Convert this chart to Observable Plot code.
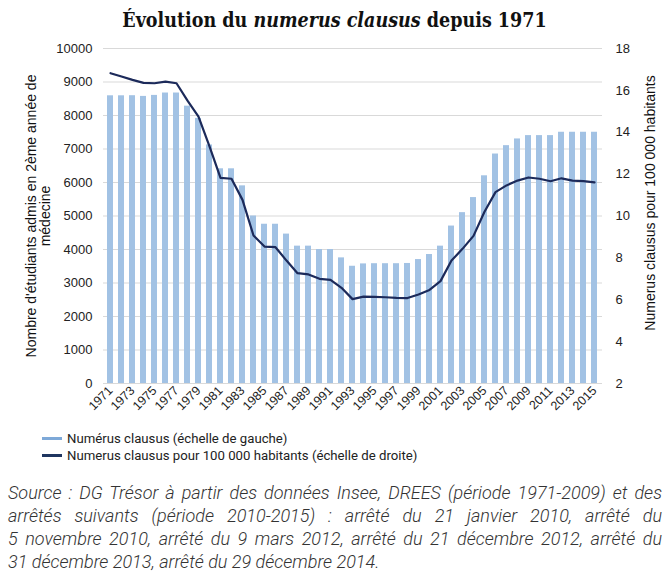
<!DOCTYPE html>
<html><head><meta charset="utf-8">
<script src="https://cdn.jsdelivr.net/npm/d3@7"></script>
<script src="https://cdn.jsdelivr.net/npm/@observablehq/plot@0.6"></script>
<style>
body{margin:0;background:#fff;width:669px;height:582px;position:relative;font-family:"Liberation Sans",Arial,sans-serif;overflow:hidden;}
#title{position:absolute;top:0;left:0;width:669px;height:40px;line-height:42px;text-align:center;font-family:"DejaVu Serif Condensed","DejaVu Serif",serif;font-weight:bold;font-size:19.5px;color:#111;}
#chart{position:absolute;top:38px;left:0;}
.lg{position:absolute;left:42px;height:17px;line-height:17px;font-family:Roboto,"Liberation Sans",sans-serif;font-size:13.2px;color:#222;white-space:nowrap;}
.sw{display:inline-block;width:20px;height:3px;vertical-align:middle;margin-right:5px;position:relative;top:-1px;}
#caption{position:absolute;top:481px;left:8px;width:654px;font-family:Roboto,"Liberation Sans",sans-serif;font-style:italic;font-weight:300;font-size:18px;line-height:23px;color:#333;}
.j{text-align:justify;text-align-last:justify;}
</style></head><body>
<div id="title">Évolution du <i>numerus clausus</i> depuis 1971</div>
<div id="chart"></div>
<div class="lg" style="top:430px"><span class="sw" style="background:#7ea9d8"></span>Numérus clausus (échelle de gauche)</div>
<div class="lg" style="top:447px"><span class="sw" style="background:#1f3560"></span>Numerus clausus pour 100 000 habitants (échelle de droite)</div>
<div id="caption">
<div class="j">Source : DG Trésor à partir des données Insee, DREES (période 1971-2009) et des</div>
<div class="j">arrêtés suivants (période 2010-2015) : arrêté du 21 janvier 2010, arrêté du</div>
<div class="j">5 novembre 2010, arrêté du 9 mars 2012, arrêté du 21 décembre 2012, arrêté du</div>
<div>31 décembre 2013, arrêté du 29 décembre 2014.</div>
</div>
<script>
const years = [1971,1972,1973,1974,1975,1976,1977,1978,1979,1980,1981,1982,1983,1984,1985,1986,1987,1988,1989,1990,1991,1992,1993,1994,1995,1996,1997,1998,1999,2000,2001,2002,2003,2004,2005,2006,2007,2008,2009,2010,2011,2012,2013,2014,2015];
const admis = [8588,8588,8591,8570,8600,8671,8671,8279,7913,7121,6409,6409,5900,5000,4754,4754,4460,4100,4100,4000,4000,3750,3500,3570,3576,3576,3576,3583,3700,3850,4100,4700,5100,5550,6200,6850,7100,7300,7400,7400,7400,7500,7500,7500,7500];
const ratio = [16.82,16.66,16.50,16.36,16.34,16.42,16.34,15.51,14.75,13.32,11.82,11.78,10.77,9.07,8.54,8.51,7.87,7.27,7.21,7.0,6.95,6.57,6.03,6.15,6.14,6.12,6.09,6.08,6.25,6.47,6.89,7.87,8.43,9.05,10.2,11.14,11.46,11.69,11.84,11.78,11.66,11.8,11.69,11.67,11.61];
const xTicks = [1971,1973,1975,1977,1979,1981,1983,1985,1987,1989,1991,1993,1995,1997,1999,2001,2003,2005,2007,2009,2011,2013,2015];
const leftTicks = [0,1000,2000,3000,4000,5000,6000,7000,8000,9000,10000];
const rightTicks = [2,4,6,8,10,12,14,16,18];
const leftTitle = "Nombre d'étudiants admis en 2ème année de\nmédecine";
const rightTitle = "Numerus clausus pour 100 000 habitants";

const data = years.map((y, i) => ({year: y, admis: admis[i], ratio: ratio[i]}));
const k = 10000 / 16;
const toLeft = v => (v - 2) * k;

const chart = Plot.plot({
  width: 669, height: 390,
  marginTop: 10, marginBottom: 45, marginLeft: 103, marginRight: 67,
  style: {fontFamily: "'Liberation Sans', Arial, sans-serif", fontSize: "13px", color: "#222", background: "#fff"},
  x: {type: "band", domain: years, paddingInner: 0.45, paddingOuter: 0.225, axis: null},
  y: {domain: [0, 10000], axis: null},
  marks: [
    Plot.gridY(leftTicks, {stroke: "#d9d9d9", strokeOpacity: 1}),
    Plot.barY(data, {x: "year", y: "admis", fill: "#a2c2e4"}),
    Plot.line(data, {x: "year", y: d => toLeft(d.ratio), stroke: "#1c2a5a", strokeWidth: 2.2}),
    Plot.axisY(leftTicks, {anchor: "left", tickSize: 0, tickPadding: 11, tickFormat: d => String(d), label: null, fontSize: 13}),
    Plot.axisY(rightTicks.map(toLeft), {anchor: "right", tickSize: 0, tickPadding: 13, tickFormat: d => String(Math.round(d / k + 2)), label: null, fontSize: 13}),
    Plot.axisX(xTicks, {tickSize: 0, tickRotate: -45, tickPadding: 5, tickFormat: d => String(d), label: null, fontSize: 12.5}),
    Plot.text([leftTitle], {text: d => d, frameAnchor: "left", dx: -65, rotate: -90, textAnchor: "middle", lineAnchor: "middle", fontSize: 14, fill: "#111"}),
    Plot.text([rightTitle], {text: d => d, frameAnchor: "right", dx: 48, dy: -13, rotate: -90, textAnchor: "middle", lineAnchor: "middle", fontSize: 14, fill: "#111"})
  ]
});
document.getElementById("chart").appendChild(chart);
</script>
</body></html>
